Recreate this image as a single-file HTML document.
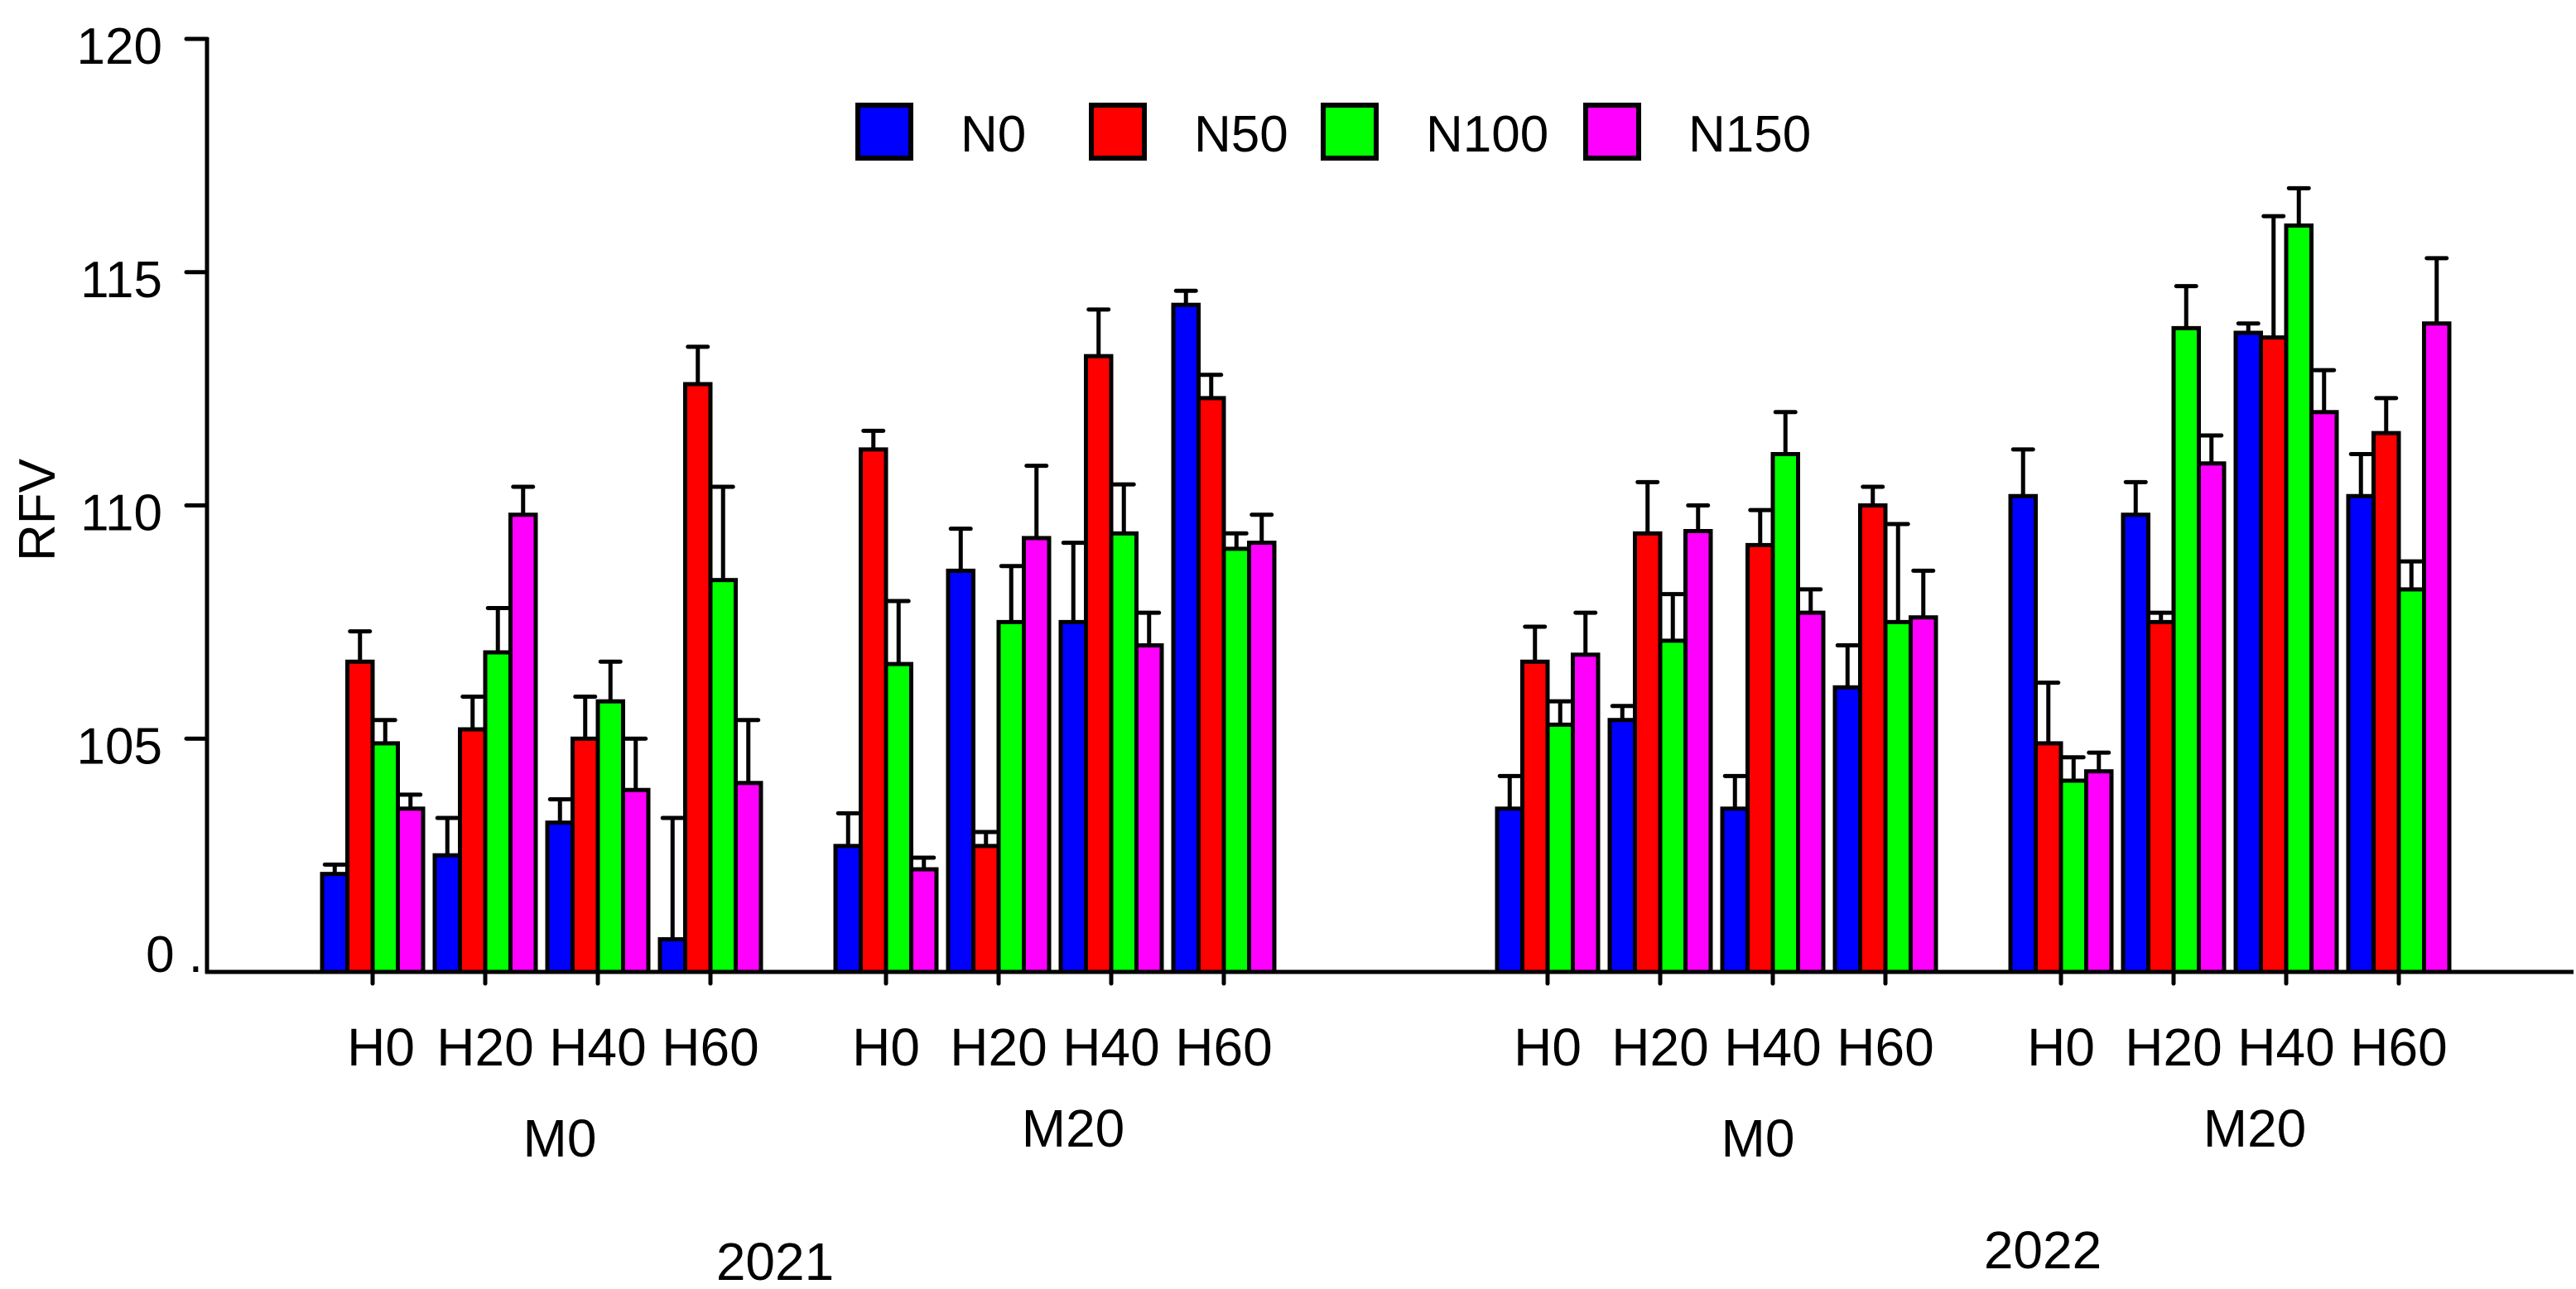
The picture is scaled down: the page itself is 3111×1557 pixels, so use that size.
<!DOCTYPE html>
<html><head><meta charset="utf-8"><style>
html,body{margin:0;padding:0;background:#fff}
svg{display:block}
text{font-family:"Liberation Sans",Arial,sans-serif;fill:#000}
</style></head><body>
<svg id="chart" width="3111" height="1557" viewBox="0 0 3111 1557" xmlns="http://www.w3.org/2000/svg">
<g id="axes"></g>
<g id="bars"></g>
<g id="labels"></g>
<g id="legend"></g>
<text x="0" y="0" font-size="62" text-anchor="middle" transform="translate(66,616) rotate(-90)">RFV</text>
</svg>
<script>
const seriesNames = ["N0","N50","N100","N150"];
const seriesColors = ["#0000ff","#ff0000","#00ff00","#ff00ff"];
const groupLabels = ["H0","H20","H40","H60","H0","H20","H40","H60","H0","H20","H40","H60","H0","H20","H40","H60"];
const manureLabels = ["M0","M20","M0","M20"];
const yearLabels = ["2021","2022"];
const yTickValues = [100,105,110,115,120];
const yTickLabels = ["0 .","105","110","115","120"];
const n0Values   = [102.1,102.5,103.2,100.7, 102.7,108.6,107.5,114.3, 103.5,105.4,103.5,106.1, 110.2,109.8,113.7,110.2];
const n0Err      = [102.3,103.3,103.7,103.3, 103.4,109.5,109.2,114.6, 104.2,105.7,104.2,107.0, 111.2,110.5,113.9,111.1];
const n50Values  = [106.65,105.2,105.0,112.6, 111.2,102.7,113.2,112.3, 106.65,109.4,109.15,110.0, 104.9,107.5,113.6,111.55];
const n50Err     = [107.3,105.9,105.9,113.4, 111.6,103.0,114.2,112.8, 107.4,110.5,109.9,110.4, 106.2,107.7,116.2,112.3];
const n100Values = [104.9,106.85,105.8,108.4, 106.6,107.5,109.4,109.07, 105.3,107.1,111.1,107.5, 104.1,113.8,116.0,108.2];
const n100Err    = [105.4,107.8,106.65,110.4, 107.95,108.7,110.45,109.4, 105.8,108.1,112.0,109.6, 104.6,114.7,116.8,108.8];
const n150Values = [103.5,109.8,103.9,104.05, 102.2,109.3,107.0,109.2, 106.8,109.45,107.7,107.6, 104.3,110.9,112.0,113.9];
const n150Err    = [103.8,110.4,105.0,105.4, 102.45,110.85,107.7,109.8, 107.7,110.0,108.2,108.6, 104.7,111.5,112.9,115.3];

const NS="http://www.w3.org/2000/svg";
const Y0=1174, PX=56.35, X0=450, STEP=136, SUBGAP=76, YEARGAP=255, BW=30.5;
function y(v){return Y0-(v-100)*PX;}
function gx(i){const sub=Math.floor(i/4), yr=Math.floor(i/8);return X0+i*STEP+sub*SUBGAP+yr*(YEARGAP-SUBGAP);}
function mk(tag,parent,attrs){const e=document.createElementNS(NS,tag);for(const k in attrs)e.setAttribute(k,attrs[k]);parent.appendChild(e);return e;}
const axes=document.getElementById('axes'),bars=document.getElementById('bars'),labels=document.getElementById('labels'),legend=document.getElementById('legend');

let e=mk('line',axes,{x1:250,y1:45,x2:250,y2:1176,stroke:'#000','stroke-width':5});

e=mk('line',axes,{x1:248,y1:Y0,x2:3108,y2:Y0,stroke:'#000','stroke-width':5});

yTickValues.forEach((v,i)=>{
  if(i>0){const t=mk('line',axes,{x1:225,y1:y(v),x2:250,y2:y(v),stroke:'#000','stroke-width':5,'stroke-linecap':'round'});
  }
  const tx=mk('text',axes,{x:i==0?245:196,y:y(v)+(i==0?0:30),'font-size':62,'text-anchor':'end'});
  tx.textContent=yTickLabels[i];
  
});
const vals=[n0Values,n50Values,n100Values,n150Values], errs=[n0Err,n50Err,n100Err,n150Err];
groupLabels.forEach((g,i)=>{
  const c=gx(i);
  const t=mk('line',axes,{x1:c,y1:Y0,x2:c,y2:Y0+14,stroke:'#000','stroke-width':5,'stroke-linecap':'round'});
  
  for(let s=0;s<4;s++){
    const bx=c-2*BW+s*BW, cx=bx+BW/2;
    const eb=mk('path',bars,{d:`M${cx},${y(vals[s][i])}V${y(errs[s][i])}M${cx-12},${y(errs[s][i])}H${cx+12}`,stroke:'#000','stroke-width':5,'stroke-linecap':'round',fill:'none'});
    
    const r=mk('rect',bars,{x:bx,y:y(vals[s][i]),width:BW,height:Y0-y(vals[s][i]),fill:seriesColors[s],stroke:'#000','stroke-width':5});
    
  }
  const l=mk('text',labels,{x:c+(i==0?10:0),y:1287,'font-size':64,'text-anchor':'middle'});
  l.textContent=g;
  
});
const manureOffset=[22,22,50,30];
manureLabels.forEach((m,j)=>{
  const c=(gx(j*4)+gx(j*4+3))/2+manureOffset[j];
  const l=mk('text',labels,{x:c,y:j%2?1385:1397,'font-size':64,'text-anchor':'middle'});
  l.textContent=m;
  
});
const yearOffset=[-28,84];
yearLabels.forEach((yr,j)=>{
  const c=(gx(j*8)+gx(j*8+7))/2+yearOffset[j];
  const l=mk('text',labels,{x:c,y:j?1532:1546,'font-size':64,'text-anchor':'middle'});
  l.textContent=yr;
  
});
const legX=[1036,1318,1598,1915];
seriesNames.forEach((n,s)=>{
  const r=mk('rect',legend,{x:legX[s],y:127,width:64,height:64,fill:seriesColors[s],stroke:'#000','stroke-width':6});
  
  const t=mk('text',legend,{x:legX[s]+124,y:183,'font-size':62});
  t.textContent=n;
  
});
</script>
</body></html>
